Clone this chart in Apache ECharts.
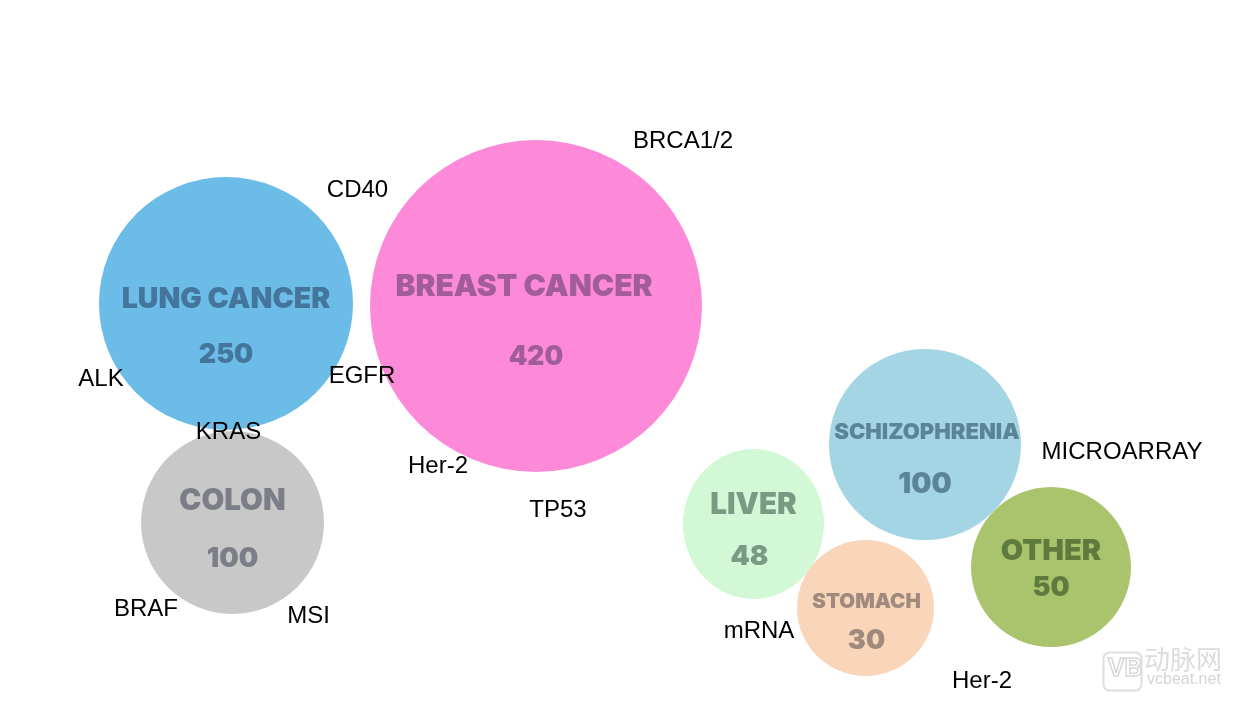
<!DOCTYPE html>
<html>
<head>
<meta charset="utf-8">
<script src="https://cdn.jsdelivr.net/npm/echarts@6/dist/echarts.min.js"></script>
<style>
html,body{margin:0;padding:0;background:#fff;}
#chart{width:1249px;height:704px;}
</style>
</head>
<body>
<div id="chart"></div>
<script>
// ---- data ----
const categories = ['LUNG CANCER', 'BREAST CANCER', 'COLON', 'LIVER', 'SCHIZOPHRENIA', 'STOMACH', 'OTHER'];
const counts = [250, 420, 100, 48, 100, 30, 50];
const bubbleX = [22.6, 53.6, 23.25, 75.35, 92.5, 86.55, 105.1];
const bubbleY = [30.35, 30.6, 52.25, 52.4, 44.45, 60.8, 56.7];
const bubbleW = [254, 332, 183, 141, 192, 137, 160];
const bubbleH = [253, 332, 183, 150, 191, 136, 160];

const genes = ['BRCA1/2', 'CD40', 'ALK', 'EGFR', 'KRAS', 'Her-2', 'TP53', 'BRAF', 'MSI', 'mRNA', 'MICROARRAY', 'Her-2'];
const geneX = [68.3, 35.75, 10.1, 36.2, 22.85, 43.8, 55.8, 14.6, 30.85, 75.9, 112.2, 98.2];
const geneY = [14.1, 19.0, 37.9, 37.6, 43.2, 46.65, 51.0, 60.95, 61.6, 63.1, 45.2, 68.1];

// ---- styles ----
const fillColors = ['#6bbde7', '#fd8ad9', '#c8c8c8', '#d3f8d5', '#a4d5e5', '#f9d6b9', '#a9c46d'];
const textColors = ['#44759c', '#a15c9a', '#7c7e87', '#7a9a84', '#5b8499', '#a08a7e', '#5f7a3d'];
const nameSize = [28.5, 30, 29.5, 29.5, 22, 20.5, 29];
const valueSize = [27, 26.5, 27.5, 27.5, 28.5, 27, 27];
const nameOffset = [[0, -4], [-12, -19], [0, -21], [0, -19], [2, -12], [1, -6], [0, -16]];
const valueOffset = [[0, 51], [0, 51], [0, 36], [-4, 33], [0, 40], [1, 33], [0, 21]];
const boldFont = 'Inter, "DejaVu Sans", sans-serif';

function boldLabel(text, i, size, offset) {
  return {
    show: true, position: 'inside', offset: offset,
    formatter: text, color: textColors[i], fontFamily: boldFont,
    fontWeight: 900, fontSize: size, opacity: 1
  };
}

const bubbleData = categories.map((c, i) => ({
  name: c,
  value: [bubbleX[i], bubbleY[i], counts[i]],
  symbolSize: [bubbleW[i], bubbleH[i]],
  itemStyle: { color: fillColors[i], opacity: 1 },
  label: boldLabel(c, i, nameSize[i], nameOffset[i])
}));
const valueData = categories.map((c, i) => ({
  name: c,
  value: [bubbleX[i], bubbleY[i], counts[i]],
  itemStyle: { opacity: 1 },
  label: boldLabel(String(counts[i]), i, valueSize[i], valueOffset[i])
}));
const geneData = genes.map((g, i) => ({ name: g, value: [geneX[i], geneY[i]] }));

const chart = echarts.init(document.getElementById('chart'), null, { renderer: 'canvas' });
chart.setOption({
  backgroundColor: '#ffffff',
  animation: false,
  grid: { left: 0, right: 0, top: 0, bottom: 0 },
  xAxis: { type: 'value', min: 0, max: 124.9, show: false },
  yAxis: { type: 'value', min: 0, max: 70.4, inverse: true, show: false },
  series: [
    {
      type: 'scatter', name: 'bubbles', data: bubbleData, silent: true,
      itemStyle: { opacity: 1 }, z: 2
    },
    {
      type: 'scatter', name: 'values', data: valueData, symbolSize: 0, silent: true, z: 3,
      itemStyle: { opacity: 1 }
    },
    {
      type: 'scatter', name: 'genes', data: geneData, symbolSize: 0, silent: true, z: 4,
      itemStyle: { opacity: 1 },
      label: {
        show: true, position: 'inside', formatter: '{b}', color: '#000000', opacity: 1,
        fontFamily: '"Liberation Sans", Arial, sans-serif', fontSize: 24
      }
    }
  ],
  graphic: [
    {
      type: 'rect', left: 1101, top: 650, shape: { width: 38, height: 38, r: 6 },
      style: { fill: 'none', stroke: '#dedede', lineWidth: 2 }, silent: true
    },
    {
      type: 'text', left: 1107, top: 656, silent: true,
      style: { text: 'VB', fill: 'none', stroke: '#d8d8d8', lineWidth: 1.5, font: 'bold 25px "Liberation Sans Narrow", "Liberation Sans", sans-serif' }
    },
    {
      type: 'text', left: 1144, top: 646, silent: true,
      style: { text: '动脉网', fill: '#dcdcdc', font: '26px "Noto Sans CJK SC", sans-serif' }
    },
    {
      type: 'text', left: 1147, top: 672, silent: true,
      style: { text: 'vcbeat.net', fill: '#d4d4d4', font: '16px "Liberation Sans", sans-serif' }
    }
  ]
});
</script>
</body>
</html>
